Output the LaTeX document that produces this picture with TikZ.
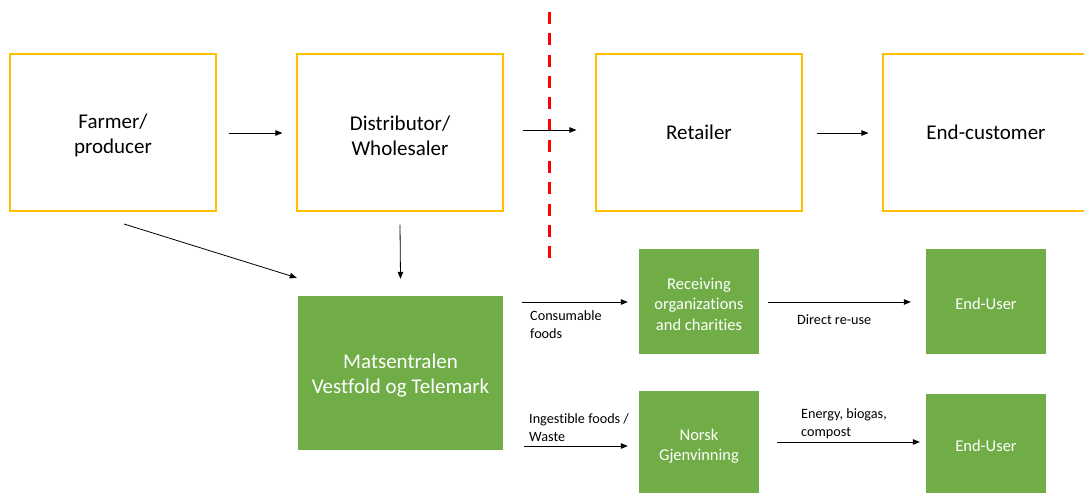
\documentclass[tikz,border=0pt]{standalone}
\usepackage{fontspec}
\setmainfont[Ligatures=NoCommon]{Carlito}
\usetikzlibrary{arrows.meta}
\definecolor{boxgold}{HTML}{FFC000}
\definecolor{leafgreen}{HTML}{70AD47}
\definecolor{cutred}{HTML}{FF0000}
\begin{document}
\begin{tikzpicture}[x=1pt,y=-1pt,
  chainbox/.style={draw=boxgold,line width=1.2pt,fill=white,minimum width=206pt,minimum height=157pt,inner sep=0pt},
  chaintext/.style={align=center,font=\fontsize{21}{25}\selectfont,inner sep=0pt,yshift=-3pt},
  bigtile/.style={fill=leafgreen,minimum width=205pt,minimum height=154pt,inner sep=0pt},
  tile/.style={fill=leafgreen,minimum width=120pt,inner sep=0pt},
  tiletext/.style={text=white,align=center,font=\fontsize{16.5}{20.5}\selectfont,inner sep=0pt,yshift=-2.5pt},
  flow/.style={line width=0.8pt,-{Triangle[length=7pt,width=5.5pt]}},
  note/.style={anchor=north west,align=left,font=\fontsize{14.2}{18}\selectfont,inner sep=0pt}]
\useasboundingbox (0,0) rectangle (1084,493);
\begin{scope}
\clip (0,0) rectangle (1084,493);
% supply chain row
\node[chainbox,label={[chaintext]center:{Farmer/\\producer}}] (farmer) at (113,132.5) {};
\node[chainbox,label={[chaintext]center:{Distributor/\\Wholesaler}}] (dist) at (400,132.5) {};
\node[chainbox,label={[chaintext,yshift=3pt]center:{Retailer}}] (retail) at (699,132.5) {};
\node[chainbox,label={[chaintext,yshift=3pt]center:{End-customer}}] (cust) at (986,132.5) {};
% redistribution row
\node[bigtile,label={[chaintext,text=white]center:{Matsentralen\\Vestfold og Telemark}}] (mats) at (400.5,373) {};
\node[tile,minimum height=105pt,label={[tiletext]center:{Receiving\\organizations\\and charities}}] (recv) at (699,301.5) {};
\node[tile,minimum height=105pt,label={[tiletext]center:{End-User}}] (user1) at (986,301.5) {};
\node[tile,minimum height=102pt,label={[tiletext,yshift=-1.5pt]center:{Norsk\\Gjenvinning}}] (norsk) at (699,442) {};
\node[tile,minimum height=99pt,label={[tiletext]center:{End-User}}] (user2) at (986,443.5) {};
\end{scope}
% boundary between wholesale and retail
\coordinate (cuttop) at (549,12);
\coordinate (cutbot) at (549,258);
\draw[cutred,line width=3pt,dash pattern=on 12pt off 9.3pt] (cuttop) -- (cutbot);
% flows along the chain
\draw[flow] ([xshift=12pt]farmer.east |- 0,133) -- ([xshift=-14pt]dist.west |- 0,133);
\draw[flow] ([xshift=19pt]dist.east |- 0,130) -- ([xshift=-19pt]retail.west |- 0,130);
\draw[flow] ([xshift=14pt]retail.east |- 0,133) -- ([xshift=-14pt]cust.west |- 0,133);
% surplus to the food bank
\coordinate (fstart) at (124,224);
\draw[flow] (fstart) -- ([xshift=-1pt,yshift=18pt]mats.north west);
\draw[flow] ([yshift=-13pt]dist.south) -- ([yshift=17pt]mats.north);
% outflows from the food bank
\draw[flow] ([xshift=19pt]mats.east |- 0,302) -- ([xshift=-11pt]recv.west |- 0,302);
\draw[flow] ([xshift=21pt]mats.east |- 0,446) -- ([xshift=-11pt]norsk.west |- 0,446);
\draw[flow] ([xshift=9pt]recv.east |- 0,302) -- ([xshift=-15pt]user1.west |- 0,302);
\draw[flow] ([xshift=18pt]norsk.east |- 0,442) -- ([xshift=-6pt]user2.west |- 0,442);
% flow labels
\node[note] (l1) at (530,310) {Consumable\\foods};
\node[note] (l2) at (797,315) {Direct re-use};
\node[note] (l3) at (529,413.5) {Ingestible foods /\\Waste};
\node[note] (l4) at (801,408) {Energy, biogas,\\compost};
\end{tikzpicture}
\end{document}
